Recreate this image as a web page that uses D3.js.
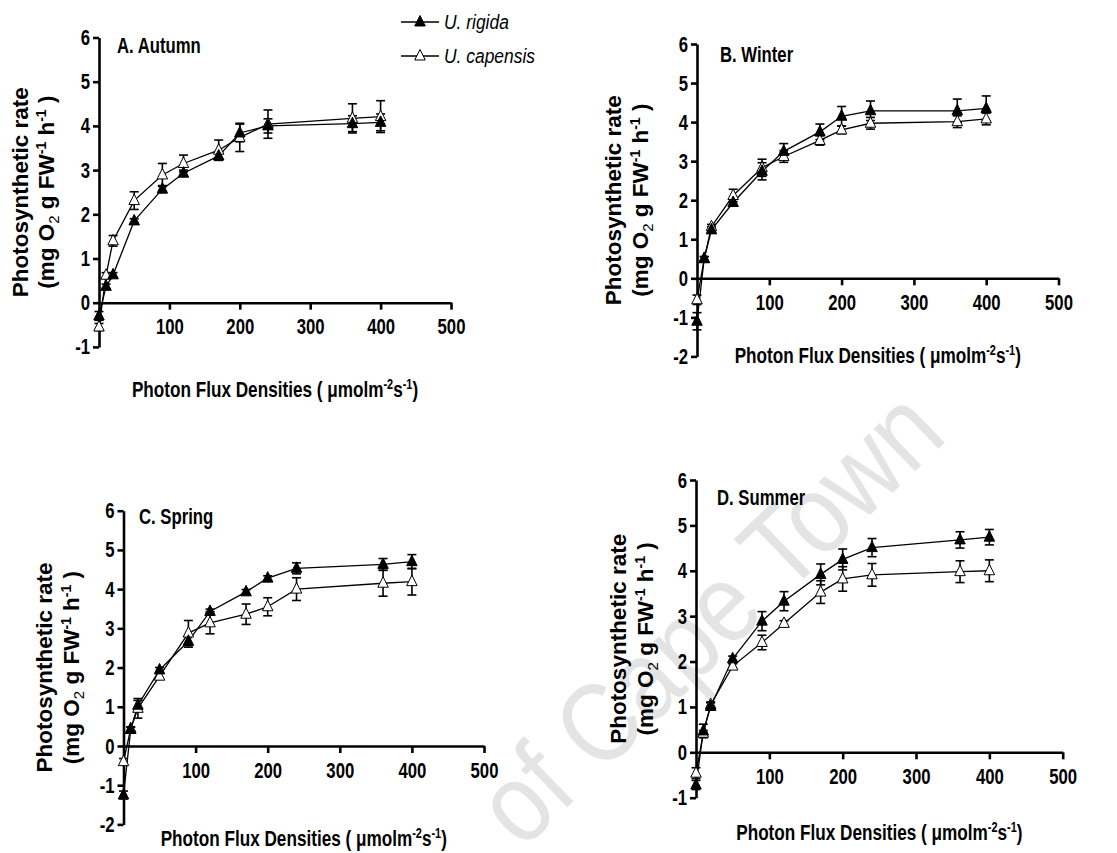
<!DOCTYPE html>
<html>
<head>
<meta charset="utf-8">
<script src="https://cdn.jsdelivr.net/npm/d3@7"></script>
<style>
  html, body { margin: 0; padding: 0; background: #fff; }
  svg { display: block; }
  .tick text { font-family: "Liberation Sans", Arial, sans-serif; font-weight: bold; font-size: 22px; fill: #000; }
  .ytitle { font-family: "Liberation Sans", Arial, sans-serif; font-weight: bold; font-size: 22.5px; fill: #000; }
  .xtitle, .ptitle { font-family: "Liberation Sans", Arial, sans-serif; font-weight: bold; font-size: 22px; fill: #000; }
  .legend { font-family: "Liberation Sans", Arial, sans-serif; font-style: italic; font-size: 21px; fill: #000; }
  .wm { font-family: "Liberation Sans", Arial, sans-serif; font-size: 112px; fill: #e4e4e4; }
</style>
</head>
<body>
<svg id="fig" width="1117" height="853"></svg>
<script>
// Photon flux densities (µmol m-2 s-1) at which O2 evolution was measured
const pfd = [0, 10, 20, 50, 90, 120, 170, 200, 240, 360, 400];

// Photosynthetic rate (mg O2 g FW-1 h-1), mean and SE, per season and species
const autumnRigida      = [-0.30, 0.37, 0.63, 1.85, 2.57, 2.93, 3.32, 3.84, 4.00, 4.05, 4.08];
const autumnRigidaSE    = [0.10, 0.05, 0.05, 0.05, 0.08, 0.07, 0.07, 0.20, 0.16, 0.18, 0.19];
const autumnCapensis    = [-0.55, 0.62, 1.40, 2.31, 2.89, 3.15, 3.45, 3.74, 4.04, 4.17, 4.21];
const autumnCapensisSE  = [0.08, 0.06, 0.12, 0.20, 0.26, 0.19, 0.23, 0.32, 0.32, 0.33, 0.36];

const winterRigida      = [-1.10, 0.51, 1.24, 1.94, 2.74, 3.25, 3.75, 4.15, 4.29, 4.29, 4.35];
const winterRigidaSE    = [0.22, 0.05, 0.08, 0.08, 0.22, 0.20, 0.20, 0.25, 0.25, 0.30, 0.32];
const winterCapensis    = [-0.55, 0.50, 1.32, 2.12, 2.83, 3.12, 3.53, 3.80, 3.97, 4.01, 4.08];
const winterCapensisSE  = [0.12, 0.05, 0.06, 0.16, 0.22, 0.15, 0.12, 0.10, 0.15, 0.15, 0.15];

const springRigida      = [-1.25, 0.42, 1.04, 1.94, 2.67, 3.43, 3.93, 4.28, 4.53, 4.63, 4.70];
const springRigidaSE    = [0.10, 0.06, 0.12, 0.06, 0.15, 0.06, 0.06, 0.06, 0.14, 0.15, 0.18];
const springCapensis    = [-0.40, 0.44, 0.96, 1.78, 2.88, 3.14, 3.36, 3.55, 4.00, 4.15, 4.19];
const springCapensisSE  = [0.08, 0.05, 0.25, 0.08, 0.32, 0.28, 0.26, 0.23, 0.29, 0.33, 0.34];

const summerRigida      = [-0.72, 0.47, 1.01, 2.06, 2.89, 3.33, 3.92, 4.25, 4.51, 4.68, 4.74];
const summerRigidaSE    = [0.10, 0.15, 0.08, 0.06, 0.21, 0.21, 0.23, 0.23, 0.20, 0.18, 0.17];
const summerCapensis    = [-0.46, 0.42, 1.05, 1.90, 2.42, 2.84, 3.53, 3.82, 3.91, 3.98, 4.00];
const summerCapensisSE  = [0.12, 0.06, 0.06, 0.05, 0.16, 0.06, 0.25, 0.27, 0.25, 0.24, 0.24];

const panelTitles = ["A. Autumn", "B. Winter", "C. Spring", "D. Summer"];
const xTicks = [100, 200, 300, 400, 500];
const yTicksShort = [-1, 0, 1, 2, 3, 4, 5, 6];
const yTicksLong = [-2, -1, 0, 1, 2, 3, 4, 5, 6];
const speciesNames = ["U. rigida", "U. capensis"];

// horizontal squeeze that gives the condensed look of the labels
const NARROW = 0.76;

// Panel geometry (pixels)
const layout = [
  { x0: 99,  x1: 451,    yTop: 37.5, yBot: 346.9, yMin: -1, ticks: yTicksShort, tx: 117, ty: 53,  xt: 397, yl1: 28,  yl2: 54 },
  { x0: 697, x1: 1058.5, yTop: 44,   yBot: 356.4, yMin: -2, ticks: yTicksLong,  tx: 720, ty: 62,  xt: 363, yl1: 621, yl2: 648 },
  { x0: 123.5, x1: 484,  yTop: 510.7, yBot: 824.4, yMin: -2, ticks: yTicksLong, tx: 139, ty: 524, xt: 846, yl1: 52,  yl2: 79 },
  { x0: 696, x1: 1062.7, yTop: 480,  yBot: 797.7, yMin: -1, ticks: yTicksShort, tx: 717, ty: 505, xt: 840, yl1: 626, yl2: 653 }
];

const seasons = [
  [[autumnRigida, autumnRigidaSE], [autumnCapensis, autumnCapensisSE]],
  [[winterRigida, winterRigidaSE], [winterCapensis, winterCapensisSE]],
  [[springRigida, springRigidaSE], [springCapensis, springCapensisSE]],
  [[summerRigida, summerRigidaSE], [summerCapensis, summerCapensisSE]]
];

const svg = d3.select("#fig");

// faint diagonal watermark behind the figure
svg.append("text")
  .attr("class", "wm")
  .attr("transform", "translate(522,851) rotate(-44) scale(0.87,1)")
  .text("of Cape Town");

// triangle marker
const tri = {
  draw(ctx, size) {
    const w = Math.sqrt(size);
    const h = w;
    ctx.moveTo(0, -h * 0.62);
    ctx.lineTo(w / 2, h * 0.38);
    ctx.lineTo(-w / 2, h * 0.38);
    ctx.closePath();
  }
};
const marker = d3.symbol().type(tri).size(110);

layout.forEach((L, i) => {
  const g = svg.append("g");
  const x = d3.scaleLinear().domain([0, 500]).range([L.x0, L.x1]);
  const y = d3.scaleLinear().domain([L.yMin, 6]).range([L.yBot, L.yTop]);

  // y axis
  const ya = g.append("g")
    .attr("transform", `translate(${L.x0},0)`)
    .call(d3.axisLeft(y).tickValues(L.ticks).tickSize(6).tickSizeOuter(0).tickPadding(3).tickFormat(d => String(d)));
  ya.selectAll(".tick text")
    .attr("x", -9 / NARROW)
    .attr("transform", `scale(${NARROW},1)`);
  // x axis along zero line
  const xa = g.append("g")
    .attr("transform", `translate(0,${y(0)})`)
    .call(d3.axisBottom(x).tickValues(xTicks).tickSize(7).tickSizeOuter(0).tickPadding(9).tickFormat(d => String(d)));
  xa.selectAll(".tick text").attr("transform", `scale(${NARROW},1)`);
  [ya, xa].forEach(a => {
    a.select(".domain").attr("stroke", "#000").attr("stroke-width", 2.6);
    a.selectAll(".tick line").attr("stroke", "#000").attr("stroke-width", 2.6);
  });

  // panel title
  g.append("text").attr("class", "ptitle")
    .attr("transform", `translate(${L.tx},${L.ty}) scale(${NARROW},1)`)
    .text(panelTitles[i]);

  // x-axis title
  const xt = g.append("text").attr("class", "xtitle")
    .attr("transform", `translate(${(L.x0 + L.x1) / 2},${L.xt}) scale(${NARROW + 0.02},1)`)
    .attr("text-anchor", "middle");
  xt.append("tspan").text("Photon Flux Densities ( \u03bcmolm");
  xt.append("tspan").attr("dy", -8).attr("font-size", 14).text("-2");
  xt.append("tspan").attr("dy", 8).text("s");
  xt.append("tspan").attr("dy", -8).attr("font-size", 14).text("-1");
  xt.append("tspan").attr("dy", 8).text(")");

  // y-axis title (two lines)
  const yc = (L.yTop + L.yBot) / 2;
  g.append("text").attr("class", "ytitle")
    .attr("transform", `translate(${L.yl1},${yc}) rotate(-90)`)
    .attr("text-anchor", "middle").text("Photosynthetic rate");
  const y2 = g.append("text").attr("class", "ytitle")
    .attr("transform", `translate(${L.yl2},${yc}) rotate(-90)`)
    .attr("text-anchor", "middle");
  y2.append("tspan").text("(mg O");
  y2.append("tspan").attr("dy", 5).attr("font-size", 15).attr("font-weight", "normal").text("2");
  y2.append("tspan").attr("dy", -5).text(" g FW");
  y2.append("tspan").attr("dy", -8).attr("font-size", 14).text("-1");
  y2.append("tspan").attr("dy", 8).text(" h");
  y2.append("tspan").attr("dy", -8).attr("font-size", 14).text("-1");
  y2.append("tspan").attr("dy", 8).text(" )");

  const line = d3.line().x(d => x(d.x)).y(d => y(d.y));

  // capensis first (open), then rigida (filled) on top
  [1, 0].forEach(s => {
    const [vals, se] = seasons[i][s];
    const pts = pfd.map((p, k) => ({ x: p, y: vals[k], e: se[k] }));
    g.append("path").datum(pts).attr("d", line)
      .attr("fill", "none").attr("stroke", "#000").attr("stroke-width", 1.3);
    const eb = g.append("g").attr("stroke", "#000").attr("stroke-width", 1.6);
    pts.forEach(d => {
      const cx = x(d.x), yl = y(d.y - d.e), yh = y(d.y + d.e);
      eb.append("line").attr("x1", cx).attr("x2", cx).attr("y1", yl).attr("y2", yh);
      eb.append("line").attr("x1", cx - 4.5).attr("x2", cx + 4.5).attr("y1", yl).attr("y2", yl);
      eb.append("line").attr("x1", cx - 4.5).attr("x2", cx + 4.5).attr("y1", yh).attr("y2", yh);
    });
  });
  [1, 0].forEach(s => {
    const [vals] = seasons[i][s];
    g.append("g").selectAll("path").data(pfd.map((p, k) => ({ x: p, y: vals[k] })))
      .join("path")
      .attr("transform", d => `translate(${x(d.x)},${y(d.y)})`)
      .attr("d", marker)
      .attr("fill", s === 0 ? "#000" : "#fff")
      .attr("stroke", "#000").attr("stroke-width", 1);
  });
});

// legend
const legend = svg.append("g");
[22, 56].forEach((ly, s) => {
  legend.append("line").attr("x1", 401).attr("x2", 439).attr("y1", ly).attr("y2", ly)
    .attr("stroke", "#000").attr("stroke-width", 1.3);
  legend.append("path").attr("transform", `translate(420,${ly})`).attr("d", marker)
    .attr("fill", s === 0 ? "#000" : "#fff").attr("stroke", "#000").attr("stroke-width", 1);
  legend.append("text").attr("class", "legend")
    .attr("transform", `translate(444,${ly + 7}) scale(0.83,1)`)
    .text(speciesNames[s]);
});
</script>
</body>
</html>
